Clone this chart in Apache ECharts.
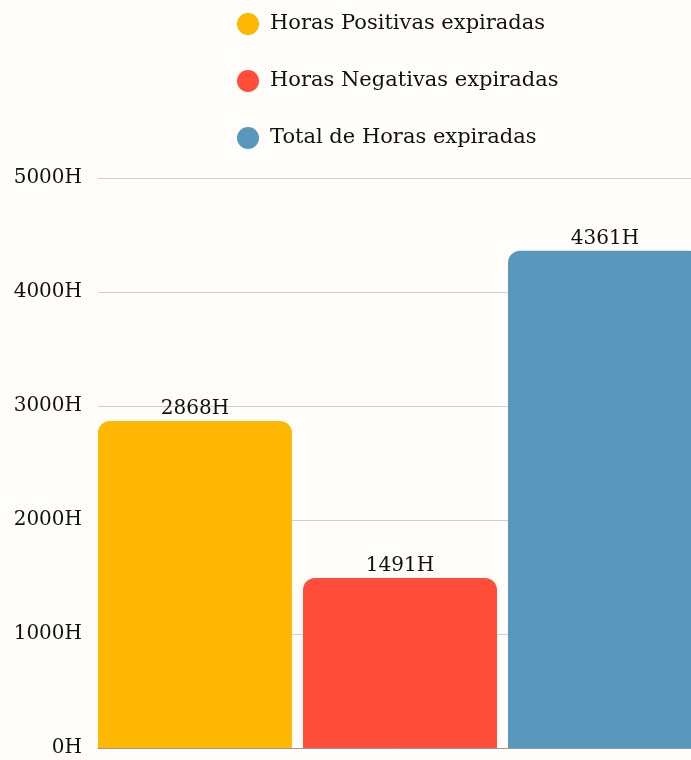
<!DOCTYPE html>
<html>
<head>
<meta charset="utf-8">
<script src="https://cdn.jsdelivr.net/npm/echarts@6/dist/echarts.min.js"></script>
<style>
  html, body { margin: 0; padding: 0; background: #fefdf9; }
  #chart { width: 691px; height: 760px; }
</style>
</head>
<body>
<div id="chart"></div>
<script>
var seriesNames = ['Horas Positivas expiradas', 'Horas Negativas expiradas', 'Total de Horas expiradas'];
var seriesValues = [2868, 1491, 4361];
var seriesColors = ['#ffb703', '#ff4d3a', '#5a97bd'];
var categories = [''];

var font = 'DejaVu Serif';

var chart = echarts.init(document.getElementById('chart'));

// one category, one bar per series, so the legend lists the three series
var series = seriesNames.map(function (name, i) {
  return {
    name: name,
    type: 'bar',
    data: [seriesValues[i]],
    barGap: '5.7%',
    barCategoryGap: '0%',
    itemStyle: { color: seriesColors[i], borderRadius: [12, 12, 0, 0] },
    label: {
      show: true,
      position: 'top',
      distance: 2,
      formatter: '{c}H',
      color: '#111',
      fontFamily: font,
      fontSize: 20
    }
  };
});

chart.setOption({
  backgroundColor: '#fefdf9',
  textStyle: { fontFamily: font },
  legend: {
    orient: 'vertical',
    left: 232,
    top: 8,
    icon: 'circle',
    itemWidth: 22,
    itemHeight: 22,
    itemGap: 35,
    textStyle: { fontFamily: font, fontSize: 21, color: '#111', padding: [0, 0, 0, 6] },
    data: seriesNames
  },
  // plot runs past the right edge, the last bar is cut off
  grid: { left: 98, right: -11, top: 178, bottom: 12, containLabel: false, outerBoundsMode: 'none' },
  xAxis: {
    type: 'category',
    data: categories,
    axisLine: { lineStyle: { color: '#999' } },
    axisTick: { show: false },
    axisLabel: { show: false }
  },
  yAxis: {
    type: 'value',
    min: 0,
    max: 5000,
    interval: 1000,
    axisLine: { show: false },
    axisTick: { show: false },
    axisLabel: {
      formatter: function (v) { return v + 'H'; },
      color: '#111', fontFamily: font, fontSize: 20, margin: 16,
      padding: [6, 0, 0, 0]
    },
    splitLine: { lineStyle: { color: '#d0d0d0' } }
  },
  series: series
});
</script>
</body>
</html>
